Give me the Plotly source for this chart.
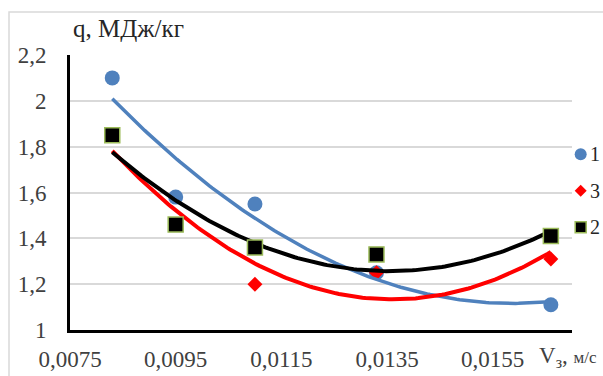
import numpy as np
import plotly.graph_objects as go

# Data
x_vals = [0.0083, 0.0095, 0.0110, 0.0133, 0.0166]
q1 = [2.10, 1.58, 1.55, 1.25, 1.11]
q3 = [1.85, 1.46, 1.20, 1.25, 1.31]
q2 = [1.85, 1.46, 1.36, 1.33, 1.41]
legend_names = ["1", "3", "2"]

x_ticks = [0.0075, 0.0095, 0.0115, 0.0135, 0.0155]
x_tick_text = ["0,0075", "0,0095", "0,0115", "0,0135", "0,0155"]
y_ticks = [1, 1.2, 1.4, 1.6, 1.8, 2, 2.2]
y_tick_text = ["1", "1,2", "1,4", "1,6", "1,8", "2", "2,2"]

c1, c3, c2, cedge = "#4f81bd", "#ff0000", "#000000", "#9bbb59"
serif = "Liberation Serif, Times New Roman, serif"
tick_col = "#404040"

def trend(xs, ys):
    k = np.polyfit(xs, ys, 2)
    xx = np.linspace(min(xs), max(xs), 150)
    return xx, np.polyval(k, xx)

fig = go.Figure()
fig.add_trace(go.Scatter(x=x_vals, y=q1, mode="markers", name=legend_names[0], showlegend=False,
                         marker=dict(symbol="circle", size=15, color=c1)))
fig.add_trace(go.Scatter(x=x_vals, y=q3, mode="markers", name=legend_names[1], showlegend=False,
                         marker=dict(symbol="diamond", size=11.5, color=c3)))
for ys, col, w in [(q1, c1, 3.5), (q3, c3, 4), (q2, c2, 4)]:
    tx, ty = trend(x_vals, ys)
    fig.add_trace(go.Scatter(x=tx, y=ty, mode="lines", line=dict(color=col, width=w),
                             showlegend=False, hoverinfo="skip"))
fig.add_trace(go.Scatter(x=x_vals, y=q2, mode="markers", name=legend_names[2], showlegend=False,
                         marker=dict(symbol="square", size=15, color=c2,
                                     line=dict(color=cedge, width=1.5))))

lx = 1.0173
ly = [0.639, 0.5065, 0.3735]
shapes = [
    dict(type="rect", xref="paper", yref="paper", x0=-0.1215, y0=-0.3, x1=1.2, y1=1.156,
         line=dict(color="#d9d9d9", width=1.5), layer="below"),
    dict(type="circle", xref="paper", yref="paper", xsizemode="pixel", ysizemode="pixel",
         xanchor=lx, yanchor=ly[0], x0=-6, x1=6, y0=-6, y1=6,
         fillcolor=c1, line=dict(width=0)),
    dict(type="path", xref="paper", yref="paper", xsizemode="pixel", ysizemode="pixel",
         xanchor=lx, yanchor=ly[1], path="M 0,6 L 6,0 L 0,-6 L -6,0 Z",
         fillcolor=c3, line=dict(width=0)),
    dict(type="rect", xref="paper", yref="paper", xsizemode="pixel", ysizemode="pixel",
         xanchor=lx, yanchor=ly[2], x0=-5.5, x1=5.5, y0=-5.5, y1=5.5,
         fillcolor=c2, line=dict(color=cedge, width=1.5)),
]
annotations = [
    dict(text="q, МДж/кг", xref="paper", yref="paper", x=0.002, y=1.04,
         xanchor="left", yanchor="bottom", showarrow=False,
         font=dict(family=serif, size=25, color="#262626")),
    dict(text="V<sub>з</sub>, <span style='font-size:17px'>м/с</span>", xref="paper", yref="paper",
         x=0.93, y=-0.04, xanchor="left", yanchor="top", showarrow=False,
         font=dict(family=serif, size=23, color=tick_col)),
]
for name, yy in zip(legend_names, ly):
    annotations.append(dict(text=name, xref="paper", yref="paper", x=1.031, y=yy,
                            xanchor="left", yanchor="middle", showarrow=False,
                            font=dict(family=serif, size=20, color="#262626")))

fig.update_layout(
    width=603, height=376,
    margin=dict(l=70, r=31, t=55, b=46, autoexpand=False),
    paper_bgcolor="white", plot_bgcolor="white",
    separators=", ",
    font=dict(family=serif, size=23, color=tick_col),
    showlegend=False,
    xaxis=dict(range=[0.0075, 0.017], tickvals=x_ticks, ticktext=x_tick_text,
               showgrid=False, zeroline=False, showline=True, linecolor="black",
               linewidth=3, ticks="", ticklabelstandoff=6,
               tickfont=dict(family=serif, size=23, color=tick_col)),
    yaxis=dict(range=[1, 2.2], tickvals=y_ticks, ticktext=y_tick_text,
               showgrid=True, gridcolor="#d9d9d9", gridwidth=1.5, zeroline=False,
               showline=True, linecolor="black", linewidth=3, ticks="",
               ticklabelstandoff=16,
               tickfont=dict(family=serif, size=23, color=tick_col)),
    annotations=annotations,
    shapes=shapes,
)

fig.write_html("out.html")
